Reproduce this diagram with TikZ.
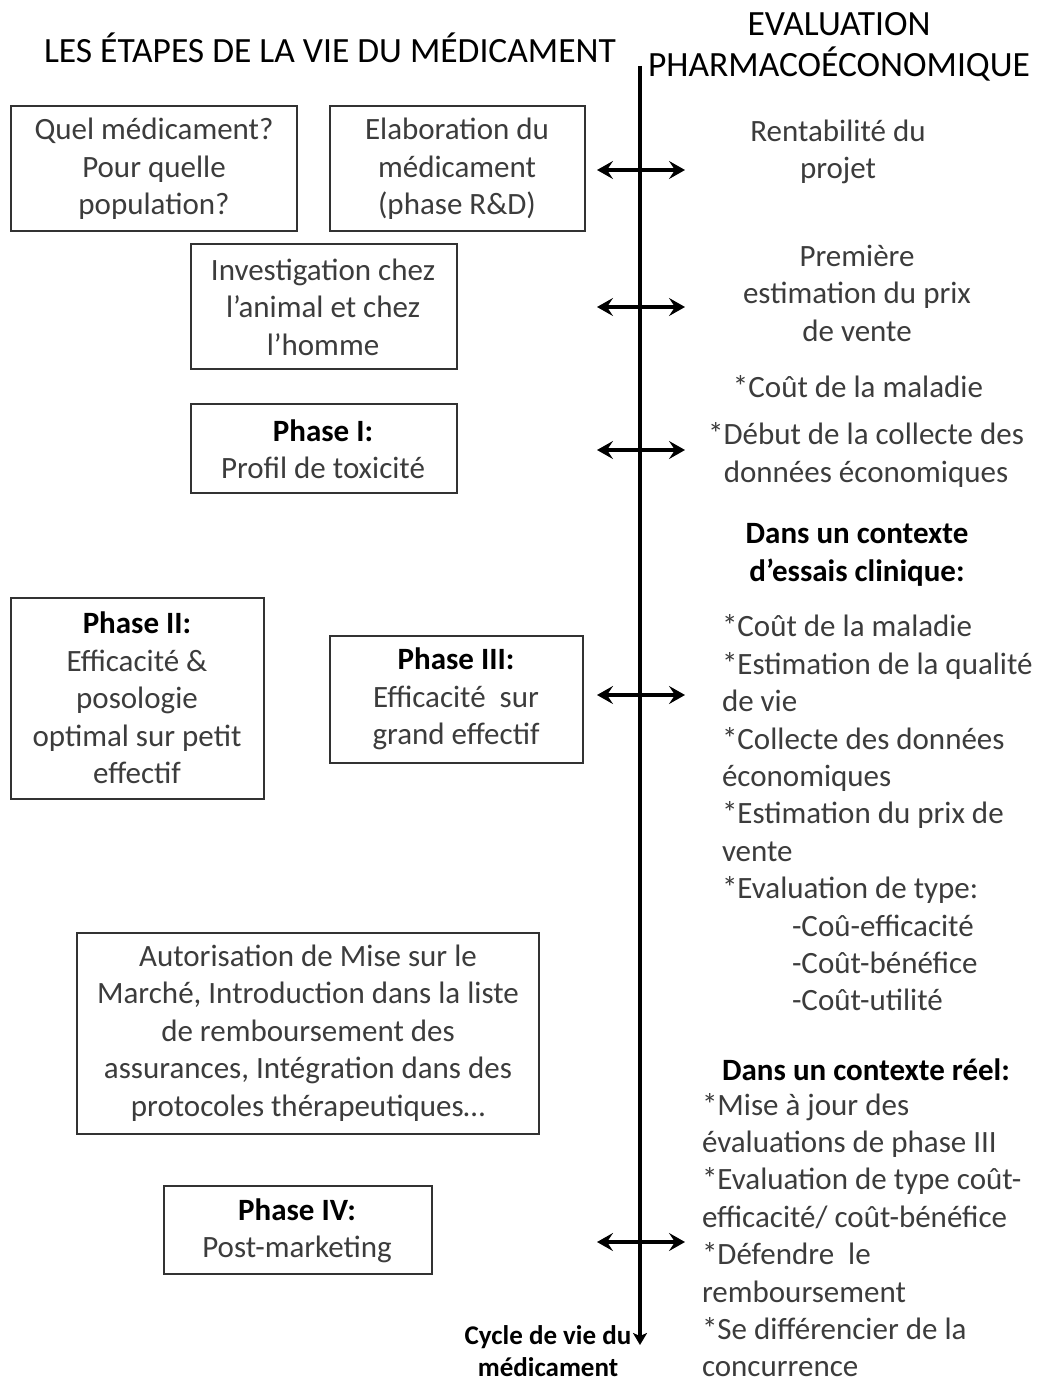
\documentclass[tikz,border=0pt]{standalone}
\usepackage{fontspec}
\setmainfont{Carlito}
\usetikzlibrary{arrows.meta}
\definecolor{txt}{RGB}{60,60,60}
\definecolor{frame}{RGB}{50,50,50}
\begin{document}
\begin{tikzpicture}[x=1pt,y=-1pt,
  every node/.style={inner sep=0pt,outer sep=0pt},
  body/.style={font=\fontsize{31}{37.5}\selectfont, text=txt, align=center},
  lbody/.style={font=\fontsize{31}{37.4}\selectfont, text=txt, align=left, anchor=west},
  head/.style={font=\fontsize{35.5}{41}\selectfont, text=black, align=center},
  bhead/.style={font=\fontsize{31}{38.5}\selectfont\bfseries, text=black, align=center},
  box/.style={draw=frame, line width=1.4pt},
  dbl/.style={line width=3.8pt, {Stealth[length=16pt,width=18pt,inset=6pt]}-{Stealth[length=16pt,width=18pt,inset=6pt]}},
  axis/.style={line width=4.5pt, -{Stealth[length=12pt,width=14pt,inset=3pt]}}]
\useasboundingbox (0,0) rectangle (1037,1381);
\fill[white] (0,0) rectangle (1037,1381);

% headers
\node[head] (hl) at (330,48) {LES ÉTAPES DE LA VIE DU MÉDICAMENT};
\node[head] (hr) at (839,47) {EVALUATION\\PHARMACOÉCONOMIQUE};

% boxes
\draw[box] (11,106) rectangle (297,231);
\node[body] (b1) at (154,169) {Quel médicament?\\Pour quelle\\population?};
\draw[box] (330,106) rectangle (585,231);
\node[body] (b2) at (457,169) {Elaboration du\\médicament\\(phase R\&D)};
\draw[box] (191,244) rectangle (457,369);
\node[body] (b3) at (323,307) {Investigation chez\\l’animal et chez\\l’homme};
\draw[box] (191,404) rectangle (457,493);
\node[body] (b4) at (323,449) {\textbf{\color{black}Phase I:}\\Profil de toxicité};
\draw[box] (11,598) rectangle (264,799);
\node[body] (b5) at (137,698) {\textbf{\color{black}Phase II:}\\Efficacité \&\\posologie\\optimal sur petit\\effectif};
\draw[box] (330,636) rectangle (583,763);
\node[body] (b6) at (456,699) {\textbf{\color{black}Phase III:}\\Efficacité~ sur\\grand effectif};
\draw[box] (77,933) rectangle (539,1134);
\node[body] (b7) at (308,1033) {Autorisation de Mise sur le\\Marché, Introduction dans la liste\\de remboursement des\\assurances, Intégration dans des\\protocoles thérapeutiques…};
\draw[box] (164,1186) rectangle (432,1274);
\node[body] (b8) at (297,1231) {\textbf{\color{black}Phase IV:}\\Post-marketing};

% right column
\node[body] (r1) at (838,152) {Rentabilité du\\projet};
\node[body] (r2) at (857,293) {Première\\estimation du prix\\de vente};
\node[body] (r3) at (858,387) {*Coût de la maladie};
\node[body] (r4) at (866,455) {*Début de la collecte des\\données économiques};
\node[bhead] (r5) at (857,555) {Dans un contexte\\d’essais clinique:};
\node[lbody] (r6) at (722,813) {*Coût de la maladie\\*Estimation de la qualité\\de vie\\*Collecte des données\\économiques\\*Estimation du prix de\\vente\\*Evaluation de type:\\\hspace*{70pt}-Coû-efficacité\\\hspace*{70pt}-Coût-bénéfice\\\hspace*{70pt}-Coût-utilité};
\node[bhead] (r7) at (866,1070) {Dans un contexte réel:};
\node[lbody] (r8) at (702,1235) {*Mise à jour des\\évaluations de phase III\\*Evaluation de type coût-\\efficacité/ coût-bénéfice\\*Défendre~ le\\remboursement\\*Se différencier de la\\concurrence};

% axis
\coordinate (top) at (640,66);
\coordinate (bot) at (640,1345);
\draw[axis] (top) -- (bot);
\node[font=\fontsize{27}{32}\selectfont\bfseries, text=black, align=center] (cyc) at (548,1351) {Cycle de vie du\\médicament};

% double arrows
\foreach \n/\y in {a/170,b/307,c/450,d/695,e/1242}{
  \coordinate (\n L) at (597,\y);
  \coordinate (\n R) at (685,\y);
  \draw[dbl] (\n L) -- (\n R);
}
\end{tikzpicture}
\end{document}
